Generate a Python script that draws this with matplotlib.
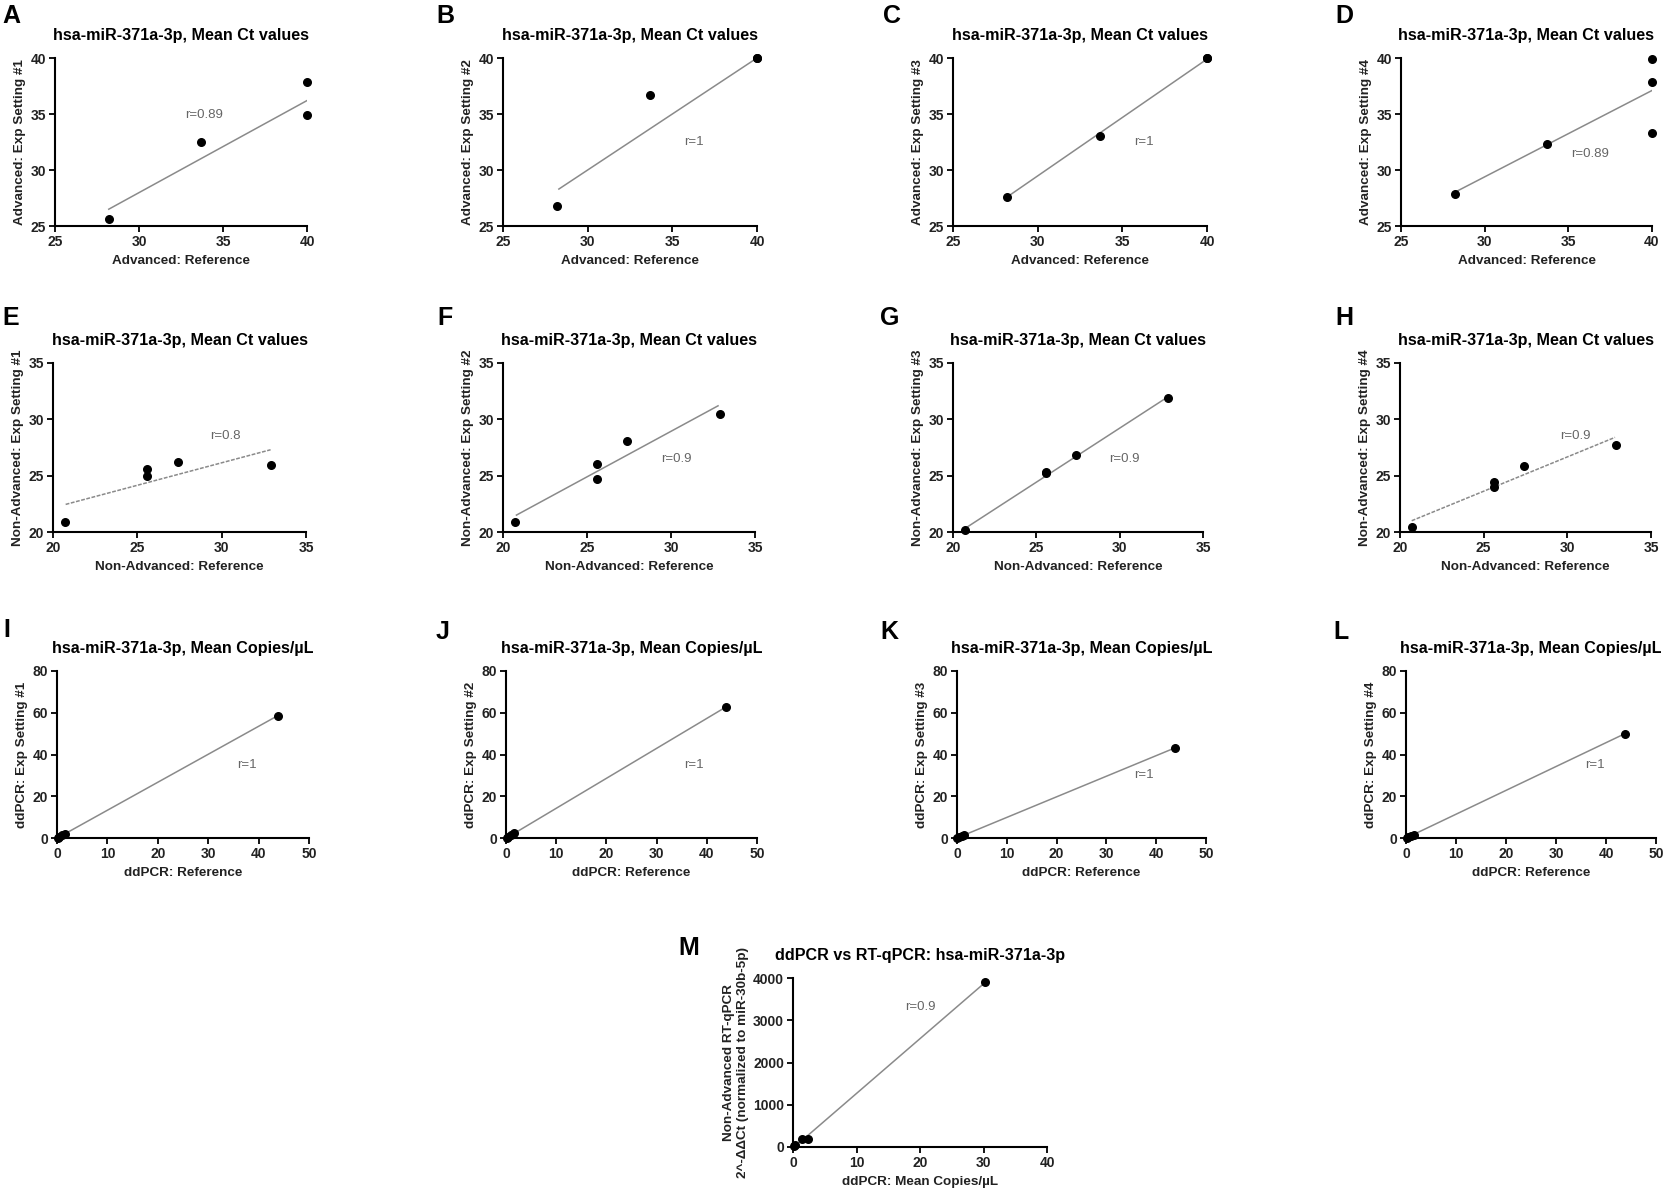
import numpy as np
import matplotlib
matplotlib.use("Agg")
from matplotlib import pyplot as plt

plt.rcParams['font.family'] = ['Liberation Sans', 'DejaVu Sans']

W, H = 1663, 1195

# ---- data ----
adv_x = [28.2, 33.7, 40.0, 40.0]
adv_y1 = [25.6, 32.5, 37.9, 34.9]
adv_y2 = [26.8, 36.7, 40.0, 40.0]
adv_y3 = [27.6, 33.0, 40.0, 40.0]
adv_x4 = [28.2, 33.7, 40.0, 40.0, 40.0]
adv_y4 = [27.9, 32.3, 39.9, 37.9, 33.3]

non_x = [20.7, 25.6, 25.6, 27.4, 32.9]
non_y1 = [20.9, 25.6, 25.0, 26.2, 25.95]
non_y2 = [20.9, 26.0, 24.7, 28.1, 30.45]
non_y3 = [20.2, 25.2, 25.3, 26.8, 31.9]
non_y4 = [20.4, 24.4, 24.0, 25.9, 27.7]

dd_x = [0.1, 0.4, 1.0, 1.5, 43.8]
dd_y1 = [0.1, 0.5, 1.2, 1.8, 58.6]
dd_y2 = [0.2, 0.6, 1.5, 2.2, 62.6]
dd_y3 = [0.1, 0.4, 1.0, 1.5, 43.3]
dd_y4 = [0.1, 0.4, 1.1, 1.6, 50.0]

m_x = [0.2, 0.3, 1.4, 2.4, 30.3]
m_y = [20, 50, 200, 180, 3900]

# fit line end points (x0, x1), (y0, y1)
fits = {
    'A': ([28.2, 40.0], [26.5, 36.2]),
    'B': ([28.3, 40.0], [28.3, 40.0]),
    'C': ([28.3, 40.0], [27.7, 39.9]),
    'D': ([28.2, 40.0], [28.0, 37.1]),
    'E': ([20.75, 32.9], [22.45, 27.3]),
    'F': ([20.8, 32.8], [21.5, 31.2]),
    'G': ([20.6, 32.9], [20.2, 32.0]),
    'H': ([20.7, 32.85], [21.0, 28.4]),
    'I': ([0.3, 43.8], [0.3, 58.6]),
    'J': ([0.3, 43.7], [0.3, 62.6]),
    'K': ([0.3, 43.9], [0.3, 43.3]),
    'L': ([0.3, 43.8], [0.3, 50.0]),
    'M': ([2.0, 30.3], [230, 3900]),
}
r_text = {'A': 'r=0.89', 'B': 'r=1', 'C': 'r=1', 'D': 'r=0.89',
          'E': 'r=0.8', 'F': 'r=0.9', 'G': 'r=0.9', 'H': 'r=0.9',
          'I': 'r=1', 'J': 'r=1', 'K': 'r=1', 'L': 'r=1', 'M': 'r=0.9'}
r_pos = {'A': (33.9, 34.9), 'B': (36.3, 32.5), 'C': (36.3, 32.5), 'D': (36.3, 31.4),
         'E': (30.2, 28.5), 'F': (30.3, 26.45), 'G': (30.3, 26.45), 'H': (30.5, 28.5),
         'I': (37.6, 35.0), 'J': (37.4, 35.0), 'K': (37.5, 30.2), 'L': (37.7, 35.0),
         'M': (20.0, 3320)}
dashed = {'E', 'H'}

title_ct = "hsa-miR-371a-3p, Mean Ct values"
title_cp = "hsa-miR-371a-3p, Mean Copies/\u00b5L"

# name, x, y, xlabel, ylabel, title
panels = [
    ('A', adv_x, adv_y1, "Advanced: Reference", "Advanced: Exp Setting #1", title_ct),
    ('B', adv_x, adv_y2, "Advanced: Reference", "Advanced: Exp Setting #2", title_ct),
    ('C', adv_x, adv_y3, "Advanced: Reference", "Advanced: Exp Setting #3", title_ct),
    ('D', adv_x4, adv_y4, "Advanced: Reference", "Advanced: Exp Setting #4", title_ct),
    ('E', non_x, non_y1, "Non-Advanced: Reference", "Non-Advanced: Exp Setting #1", title_ct),
    ('F', non_x, non_y2, "Non-Advanced: Reference", "Non-Advanced: Exp Setting #2", title_ct),
    ('G', non_x, non_y3, "Non-Advanced: Reference", "Non-Advanced: Exp Setting #3", title_ct),
    ('H', non_x, non_y4, "Non-Advanced: Reference", "Non-Advanced: Exp Setting #4", title_ct),
    ('I', dd_x, dd_y1, "ddPCR: Reference", "ddPCR: Exp Setting #1", title_cp),
    ('J', dd_x, dd_y2, "ddPCR: Reference", "ddPCR: Exp Setting #2", title_cp),
    ('K', dd_x, dd_y3, "ddPCR: Reference", "ddPCR: Exp Setting #3", title_cp),
    ('L', dd_x, dd_y4, "ddPCR: Reference", "ddPCR: Exp Setting #4", title_cp),
    ('M', m_x, m_y, "ddPCR: Mean Copies/\u00b5L",
     "Non-Advanced RT-qPCR\n2^-\u0394\u0394Ct (normalized to miR-30b-5p)",
     "ddPCR vs RT-qPCR: hsa-miR-371a-3p"),
]

row_lims = {0: ((25, 40), (25, 40), [25, 30, 35, 40], [25, 30, 35, 40]),
            1: ((20, 35), (20, 35), [20, 25, 30, 35], [20, 25, 30, 35]),
            2: ((0, 50), (0, 80), [0, 10, 20, 30, 40, 50], [0, 20, 40, 60, 80]),
            3: ((0, 40), (0, 4000), [0, 10, 20, 30, 40], [0, 1000, 2000, 3000, 4000])}

# axes boxes in pixels: left, top, right, bottom
boxes = {'A': (55, 58, 307, 226), 'B': (503, 58, 757, 226),
         'C': (953, 58, 1207, 226), 'D': (1401, 58, 1652, 226),
         'E': (53, 363, 306, 532), 'F': (503, 363, 755, 532),
         'G': (953, 363, 1203, 532), 'H': (1400, 363, 1651, 532),
         'I': (57, 671, 309, 838), 'J': (506, 671, 757, 838),
         'K': (957, 671, 1206, 838), 'L': (1406, 671, 1656, 838),
         'M': (793, 978, 1047, 1147)}
letter_pos = {'A': (2, 16), 'B': (436, 16), 'C': (883, 16), 'D': (1335, 16),
              'E': (2, 318), 'F': (437, 318), 'G': (880, 318), 'H': (1335, 318),
              'I': (3, 630), 'J': (436, 632), 'K': (880, 632), 'L': (1333, 632),
              'M': (678, 948)}

fig = plt.figure(figsize=(W / 100, H / 100), dpi=100)

for i, (name, xs, ys, xl, yl, tt) in enumerate(panels):
    row = min(i // 4, 3)
    l, t, r, b = boxes[name]
    ax = fig.add_axes([l / W, 1 - b / H, (r - l) / W, (b - t) / H])
    xlim, ylim, xt, yt = row_lims[row]

    fx, fy = fits[name]
    ls = (0, (2.5, 1)) if name in dashed else '-'
    ax.plot(fx, fy, color='#8a8a8a', lw=1.1, ls=ls, zorder=2)
    ax.scatter(xs, ys, s=30, color='black', zorder=3, clip_on=False)
    rx, ry = r_pos[name]
    ax.text(rx, ry, r_text[name], color='#666666', fontsize=9.5, ha='center', va='center')

    ax.set_xlim(*xlim)
    ax.set_ylim(*ylim)
    ax.set_xticks(xt)
    ax.set_yticks(yt)
    for s in ['top', 'right']:
        ax.spines[s].set_visible(False)
    for s in ['left', 'bottom']:
        ax.spines[s].set_linewidth(1.5)
    ax.tick_params(direction='out', length=4, width=1.3, labelsize=10, pad=2.5)
    for lab in ax.get_xticklabels() + ax.get_yticklabels():
        lab.set_fontweight('bold')
        lab.set_color('#222222')
    ax.set_xlabel(xl, fontsize=9.7, fontweight='bold', labelpad=4, color='#222222')
    ax.set_ylabel(yl, fontsize=9.7, fontweight='bold', labelpad=3, color='#222222')
    ax.set_title(tt, fontsize=11.6, fontweight='bold', pad=13)

    lx, ly = letter_pos[name]
    fig.text(lx / W, 1 - ly / H, name, fontsize=18, fontweight='bold', ha='left', va='center')

fig.savefig("out.png", dpi=100)
